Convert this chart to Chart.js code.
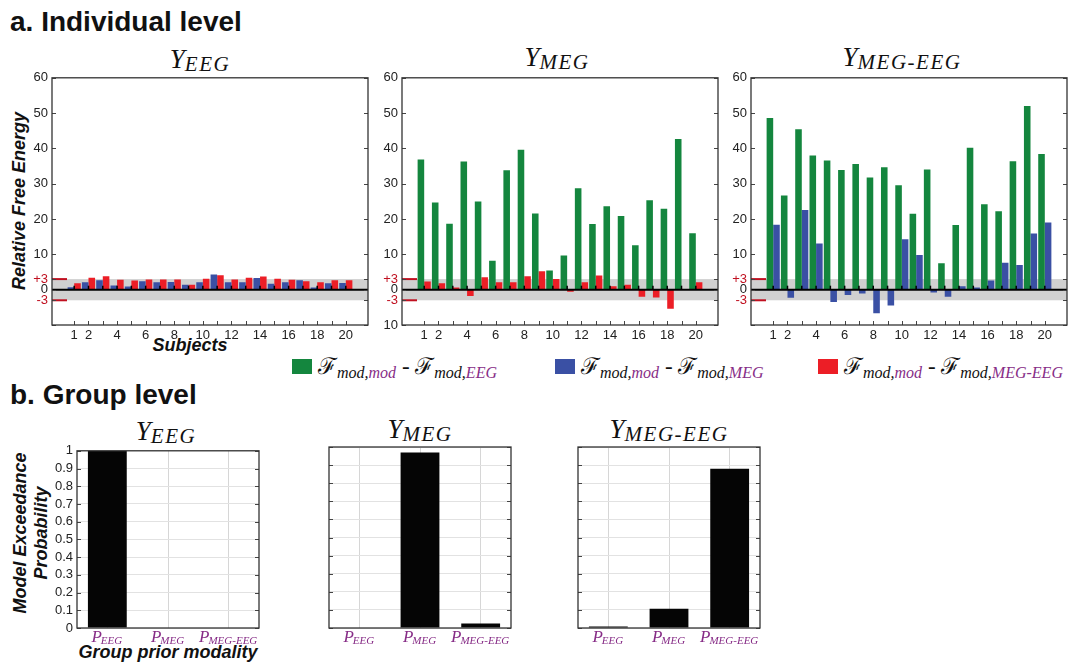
<!DOCTYPE html>
<html>
<head>
<meta charset="utf-8">
<script src="https://cdn.jsdelivr.net/npm/chart.js@4.4.1/dist/chart.umd.min.js"></script>
<style>
body { margin: 0; background: #fff; width: 1072px; height: 670px; position: relative; overflow: hidden;
       font-family: "Liberation Sans", Arial, sans-serif; color: #111; }
canvas { position: absolute; }
.t { position: absolute; white-space: nowrap; line-height: 1; }
.head { font-weight: bold; font-size: 28px; }
.ptitle { font-family: "Liberation Serif", serif; font-style: italic; font-size: 27px; text-align: center; width: 240px; }
.ptitle sub { font-size: 21px; vertical-align: baseline; position: relative; top: 3px; letter-spacing: 1.5px; }
.axt { font-weight: bold; font-style: italic; font-size: 18px; }
.rot { transform: translate(-50%, -50%) rotate(-90deg); text-align: center; }
.leg { position: absolute; font-family: "Liberation Serif", serif; font-style: italic; font-size: 23px; white-space: nowrap; line-height: 1; }
.leg .sw { display: inline-block; width: 20px; height: 15px; vertical-align: 0px; margin-right: 6px; }
.leg .F { font-family: "DejaVu Serif", "Liberation Serif", serif; font-style: normal; font-weight: normal; }
.leg sub { font-size: 16px; vertical-align: baseline; position: relative; top: 4px; }
.pu { color: #872d87; }
</style>
</head>
<body>

<div class="t head" style="left:10px;top:8px">a. Individual level</div>
<div class="t head" style="left:10px;top:381px">b. Group level</div>

<div class="t ptitle" style="left:80px;top:46px">Y<sub>EEG</sub></div>
<div class="t ptitle" style="left:437px;top:44px">Y<sub>MEG</sub></div>
<div class="t ptitle" style="left:782px;top:44px">Y<sub>MEG-EEG</sub></div>

<div class="t ptitle" style="left:46px;top:418px">Y<sub>EEG</sub></div>
<div class="t ptitle" style="left:300px;top:416px">Y<sub>MEG</sub></div>
<div class="t ptitle" style="left:549px;top:416px">Y<sub>MEG-EEG</sub></div>

<div class="t axt rot" style="left:19px;top:201px">Relative Free Energy</div>
<div class="t axt" style="left:190px;top:336px;transform:translateX(-50%)">Subjects</div>
<div class="t axt rot" style="left:31px;top:533px;line-height:21px">Model Exceedance<br>Probability</div>
<div class="t axt" style="left:168px;top:643px;transform:translateX(-50%)">Group prior modality</div>

<div class="leg" style="left:292px;top:355px"><span class="sw" style="background:#14863e"></span><span class="F">ℱ</span><sub>mod,<span class="pu">mod</span></sub> - <span class="F">ℱ</span><sub>mod,<span class="pu">EEG</span></sub></div>
<div class="leg" style="left:555px;top:355px"><span class="sw" style="background:#3a50a4"></span><span class="F">ℱ</span><sub>mod,<span class="pu">mod</span></sub> - <span class="F">ℱ</span><sub>mod,<span class="pu">MEG</span></sub></div>
<div class="leg" style="left:818px;top:355px"><span class="sw" style="background:#ec1e26"></span><span class="F">ℱ</span><sub>mod,<span class="pu">mod</span></sub> - <span class="F">ℱ</span><sub>mod,<span class="pu">MEG-EEG</span></sub></div>

<canvas id="a1" width="352" height="281" style="left:20px;top:66px"></canvas>
<canvas id="a2" width="352" height="281" style="left:370px;top:66px"></canvas>
<canvas id="a3" width="352" height="281" style="left:719px;top:66px"></canvas>
<canvas id="b1" width="222" height="209" style="left:45px;top:439px"></canvas>
<canvas id="b2" width="222" height="209" style="left:297px;top:439px"></canvas>
<canvas id="b3" width="222" height="209" style="left:546px;top:439px"></canvas>

<script>
// Individual level: relative free energy per subject
const subjects = [1, 2, 3, 4, 5, 6, 7, 8, 9, 10, 11, 12, 13, 14, 15, 16, 17, 18, 19, 20];
const xTickLabels = [1, 2, 4, 6, 8, 10, 12, 14, 16, 18, 20];
const yTicksIndividual = [-10, -3, 0, 3, 10, 20, 30, 40, 50, 60];

// Y_EEG
const eegBlue = [0.7, 2.1, 2.7, 1.2, 0.9, 2.4, 2.1, 2.2, 1.4, 2.1, 4.3, 2.1, 2.1, 3.3, 1.7, 2.1, 2.7, 0.6, 1.8, 1.9];
const eegRed  = [1.8, 3.4, 3.8, 2.8, 2.6, 2.9, 2.9, 2.9, 1.4, 3.1, 4.1, 2.9, 3.4, 3.7, 3.1, 2.8, 2.4, 2.1, 2.7, 2.7];
// Y_MEG
const megGreen = [36.9, 24.7, 18.7, 36.3, 25.0, 8.2, 33.8, 39.6, 21.6, 5.4, 9.7, 28.7, 18.6, 23.6, 20.9, 12.6, 25.3, 22.9, 42.7, 16.0];
const megRed   = [2.3, 1.8, 0.6, -1.8, 3.5, 2.1, 2.1, 3.8, 5.2, 3.0, -0.6, 2.1, 4.0, 1.0, 1.4, -2.0, -2.2, -5.4, 0, 2.1];
// Y_MEG-EEG
const megeegGreen = [48.6, 26.7, 45.4, 38.0, 36.6, 33.9, 35.6, 31.8, 34.7, 29.6, 21.5, 34.0, 7.5, 18.3, 40.2, 24.2, 22.2, 36.4, 52.0, 38.4];
const megeegBlue  = [18.4, -2.3, 22.6, 13.1, -3.5, -1.5, -1.1, -6.7, -4.5, 14.3, 9.8, -0.8, -2.0, 1.0, 0.6, 2.6, 7.6, 7.0, 15.9, 19.0];

// Group level: model exceedance probability
const groupCategories = ['EEG', 'MEG', 'MEG-EEG'];
const groupYTicks = [0, 0.1, 0.2, 0.3, 0.4, 0.5, 0.6, 0.7, 0.8, 0.9, 1];
const groupEEG    = [1.0, 0, 0];
const groupMEG    = [0, 0.97, 0.025];
const groupMEGEEG = [0.008, 0.107, 0.88];

const GREEN = '#14863e', BLUE = '#3a50a4', RED = '#ec1e26', PURPLE = '#872d87';
const TICK_FONT = { family: '"Liberation Sans", Arial, sans-serif', size: 13 };

// band, zero line, red threshold marks, inward ticks, box, subscript labels
const decor = {
    id: 'decor',
    beforeDatasetsDraw(chart, args, o) {
        const { ctx, chartArea: a, scales: { y } } = chart;
        if (o.band) {
            const top = y.getPixelForValue(o.band[1]);
            const bot = y.getPixelForValue(o.band[0]);
            ctx.save();
            ctx.fillStyle = '#d0d0d0';
            ctx.fillRect(a.left, top, a.right - a.left, bot - top);
            ctx.restore();
        }
    },
    afterDatasetsDraw(chart, args, o) {
        const { ctx, chartArea: a, scales: { x, y } } = chart;
        ctx.save();
        if (o.zeroLine) {
            const y0 = y.getPixelForValue(0);
            ctx.strokeStyle = '#000';
            ctx.lineWidth = 2;
            ctx.beginPath(); ctx.moveTo(a.left, y0); ctx.lineTo(a.right, y0); ctx.stroke();
            ctx.lineWidth = 1.5;
            x.ticks.forEach((t, i) => {
                const px = x.getPixelForTick(i);
                ctx.beginPath(); ctx.moveTo(px, y0); ctx.lineTo(px, y0 - 4); ctx.stroke();
            });
        }
        if (o.marks) {
            ctx.strokeStyle = '#c01020';
            ctx.lineWidth = 2;
            o.marks.forEach(v => {
                const py = y.getPixelForValue(v);
                ctx.beginPath(); ctx.moveTo(a.left, py); ctx.lineTo(a.left + 15, py); ctx.stroke();
            });
        }
        ctx.strokeStyle = '#444';
        ctx.lineWidth = 1;
        y.ticks.forEach((t, i) => {
            const py = Math.round(y.getPixelForTick(i)) + 0.5;
            ctx.beginPath();
            ctx.moveTo(a.left, py); ctx.lineTo(a.left + 4, py);
            ctx.moveTo(a.right, py); ctx.lineTo(a.right - 4, py);
            ctx.stroke();
        });
        if (o.xTicks) {
            x.ticks.forEach((t, i) => {
                const px = Math.round(x.getPixelForTick(i)) + 0.5;
                ctx.beginPath(); ctx.moveTo(px, a.bottom); ctx.lineTo(px, a.bottom - 4); ctx.stroke();
            });
        }
        ctx.strokeStyle = '#333';
        ctx.lineWidth = 1.3;
        ctx.strokeRect(a.left, a.top, a.right - a.left, a.bottom - a.top);
        ctx.restore();
    },
    afterDraw(chart, args, o) {
        if (!o.subLabels) return;
        const { ctx, chartArea: a, scales: { x } } = chart;
        ctx.save();
        ctx.fillStyle = PURPLE;
        chart.data.labels.forEach((lab, i) => {
            const px = x.getPixelForTick(i);
            ctx.font = 'italic 17px "Liberation Serif", serif';
            const w1 = ctx.measureText('P').width;
            ctx.font = 'italic 11px "Liberation Serif", serif';
            const w2 = ctx.measureText(lab).width;
            const sx = px - (w1 + w2) / 2;
            ctx.font = 'italic 17px "Liberation Serif", serif';
            ctx.fillText('P', sx, a.bottom + 14);
            ctx.font = 'italic 11px "Liberation Serif", serif';
            ctx.fillText(lab, sx + w1 - 1, a.bottom + 16);
        });
        ctx.restore();
    }
};

function individualChart(id, series, bottomLabel) {
    new Chart(document.getElementById(id), {
        type: 'bar',
        data: {
            datasets: series.map(s => ({
                data: subjects.map((sub, i) => ({ x: sub, y: s.values[i] })),
                backgroundColor: s.color,
                borderWidth: 0,
                categoryPercentage: 0.92,
                barPercentage: 1
            }))
        },
        options: {
            responsive: false,
            devicePixelRatio: 1,
            animation: false,
            layout: { padding: { top: 8, right: 4, bottom: 0, left: 0 } },
            plugins: {
                legend: { display: false },
                tooltip: { enabled: false },
                decor: { band: [-3, 3], zeroLine: true, marks: [3, -3], xTicks: true }
            },
            scales: {
                x: {
                    type: 'linear', min: 0, max: 21,
                    afterBuildTicks: s => { s.ticks = subjects.map(v => ({ value: v })); },
                    afterFit: s => { s.height = 22; },
                    ticks: {
                        autoSkip: false, maxRotation: 0, padding: 3, color: '#222', font: TICK_FONT,
                        callback: v => xTickLabels.includes(v) ? String(v) : ''
                    },
                    grid: { display: false, drawTicks: false },
                    border: { display: false }
                },
                y: {
                    min: -10, max: 60,
                    afterBuildTicks: s => { s.ticks = yTicksIndividual.map(v => ({ value: v })); },
                    afterFit: s => { s.width = 32; },
                    ticks: {
                        autoSkip: false, padding: 4, font: TICK_FONT,
                        color: c => Math.abs(c.tick.value) === 3 ? '#c01020' : '#222',
                        callback: v => v === 3 ? '+3' : v === -10 ? bottomLabel : String(v)
                    },
                    grid: { display: false, drawTicks: false },
                    border: { display: false }
                }
            }
        },
        plugins: [decor]
    });
}

function groupChart(id, values, showLabels) {
    new Chart(document.getElementById(id), {
        type: 'bar',
        data: {
            labels: groupCategories,
            datasets: [{
                data: values,
                backgroundColor: '#050505',
                borderWidth: 0,
                categoryPercentage: 0.64,
                barPercentage: 1
            }]
        },
        options: {
            responsive: false,
            devicePixelRatio: 1,
            animation: false,
            layout: { padding: { top: 8, right: 8, bottom: 0, left: 0 } },
            plugins: {
                legend: { display: false },
                tooltip: { enabled: false },
                decor: { subLabels: true }
            },
            scales: {
                x: {
                    offset: true,
                    afterFit: s => { s.height = 20; },
                    ticks: { callback: () => '' },
                    grid: { offset: false, color: '#d6d6d6', drawTicks: false },
                    border: { display: false }
                },
                y: {
                    min: 0, max: 1,
                    afterBuildTicks: s => { s.ticks = groupYTicks.map(v => ({ value: v })); },
                    afterFit: s => { s.width = 32; },
                    ticks: {
                        display: showLabels, autoSkip: false, padding: 4, color: '#222', font: TICK_FONT,
                        callback: v => String(v)
                    },
                    grid: { color: '#e2e2e2', drawTicks: false },
                    border: { display: false }
                }
            }
        },
        plugins: [decor]
    });
}

individualChart('a1', [{ values: eegBlue, color: BLUE }, { values: eegRed, color: RED }], '');
individualChart('a2', [{ values: megGreen, color: GREEN }, { values: megRed, color: RED }], '10');
individualChart('a3', [{ values: megeegGreen, color: GREEN }, { values: megeegBlue, color: BLUE }], '');

groupChart('b1', groupEEG, true);
groupChart('b2', groupMEG, false);
groupChart('b3', groupMEGEEG, false);
</script>
</body>
</html>
